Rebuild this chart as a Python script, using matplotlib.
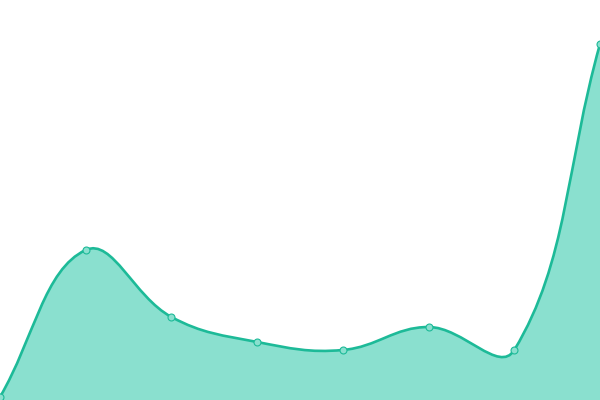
import numpy as np
import matplotlib
matplotlib.use("Agg")
import matplotlib.pyplot as plt
from matplotlib.path import Path
from matplotlib.patches import PathPatch

# data
values = [3, 150, 83, 58, 50, 73, 50, 356]
positions = list(range(len(values)))

line_color = "#1dba98"
fill_color = "#8ae0cf"
tension = 0.4

fig = plt.figure(figsize=(6, 4), dpi=100)
ax = fig.add_axes([0, 0, 1, 1])
ax.set_xlim(0, len(values) - 1)
ax.set_ylim(0, 400)
ax.axis("off")

# work in display space so the curve bends like a chart.js spline
pts = ax.transData.transform(np.column_stack([positions, values]))
n = len(pts)
cps = []
for i in range(n):
    prev = pts[i - 1] if i > 0 else pts[i]
    nxt = pts[i + 1] if i < n - 1 else pts[i]
    d01 = np.hypot(*(pts[i] - prev))
    d12 = np.hypot(*(nxt - pts[i]))
    tot = d01 + d12
    fa = tension * d01 / tot if tot else 0
    fb = tension * d12 / tot if tot else 0
    cps.append((pts[i] - fa * (nxt - prev), pts[i] + fb * (nxt - prev)))

verts = [pts[0]]
codes = [Path.MOVETO]
for i in range(n - 1):
    verts += [cps[i][1], cps[i + 1][0], pts[i + 1]]
    codes += [Path.CURVE4] * 3

inv = ax.transData.inverted()
curve = inv.transform(np.array(verts))

bottom = ax.get_ylim()[0]
fill_verts = list(curve) + [(positions[-1], bottom), (positions[0], bottom), curve[0]]
fill_codes = codes + [Path.LINETO, Path.LINETO, Path.CLOSEPOLY]
ax.add_patch(PathPatch(Path(fill_verts, fill_codes), facecolor=fill_color, edgecolor="none"))
ax.add_patch(PathPatch(Path(curve, codes), facecolor="none", edgecolor=line_color,
                       linewidth=1.9, capstyle="round", joinstyle="round"))

ax.plot(positions, values, linestyle="none", marker="o", markersize=5,
        markerfacecolor=fill_color, markeredgecolor=line_color, markeredgewidth=0.8, zorder=3)

fig.savefig("out.png", dpi=100)
